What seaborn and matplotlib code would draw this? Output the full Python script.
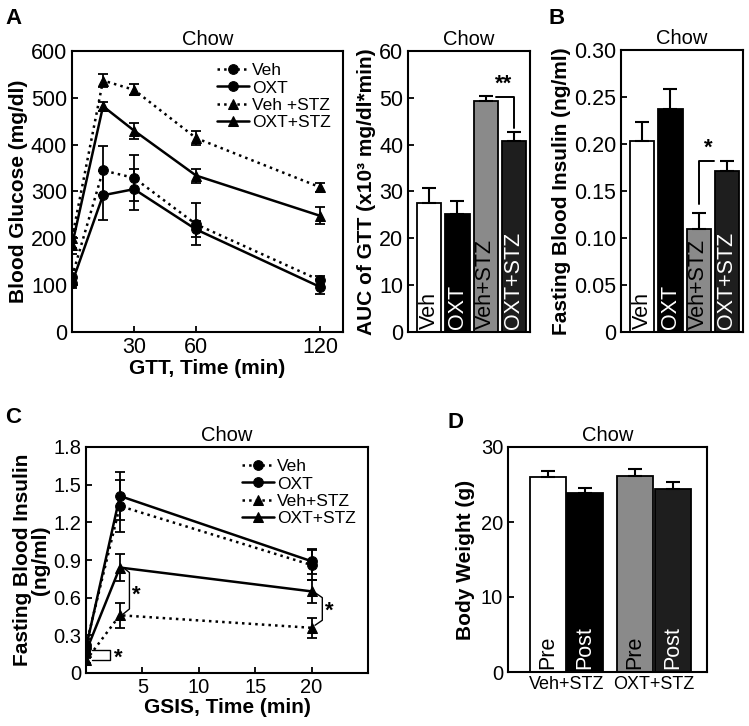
import numpy as np
import pandas as pd
import matplotlib
matplotlib.use("Agg")
import matplotlib.pyplot as plt
import seaborn as sns

sns.set_style("ticks")
plt.rcParams["font.family"] = ["Liberation Sans", "DejaVu Sans"]
plt.rcParams["axes.linewidth"] = 1.5
for key in ["text.color", "axes.labelcolor", "xtick.color", "ytick.color", "axes.edgecolor"]:
    plt.rcParams[key] = "black"

# ---- data ----
series_names = ["Veh", "OXT", "Veh +STZ", "OXT+STZ"]
series_names_c = ["Veh", "OXT", "Veh+STZ", "OXT+STZ"]
series_ls = [":", "-", ":", "-"]
series_mk = ["o", "o", "^", "^"]

gtt_time = [0, 15, 30, 60, 120]
gtt_veh = [118, 345, 329, 230, 110]
gtt_veh_err = [15, 53, 49, 45, 10]
gtt_oxt = [105, 292, 305, 219, 96]
gtt_oxt_err = [12, 52, 44, 17, 15]
gtt_veh_stz = [200, 537, 517, 414, 309]
gtt_veh_stz_err = [20, 14, 12, 15, 10]
gtt_oxt_stz = [185, 482, 430, 334, 248]
gtt_oxt_stz_err = [18, 10, 17, 15, 18]

bar_groups = ["Veh", "OXT", "Veh+STZ", "OXT+STZ"]
bar_colors = ["white", "black", "#8a8a8a", "#1e1e1e"]
bar_text_colors = ["black", "white", "black", "white"]
auc = [27.5, 25.2, 49.3, 40.8]
auc_err = [3.3, 2.7, 1.0, 2.0]
fasting_ins = [0.203, 0.237, 0.110, 0.171]
fasting_ins_err = [0.020, 0.021, 0.017, 0.011]

gsis_time = [0, 3, 20]
gsis_veh = [0.22, 1.33, 0.86]
gsis_veh_err = [0.05, 0.21, 0.12]
gsis_oxt = [0.20, 1.41, 0.89]
gsis_oxt_err = [0.04, 0.19, 0.10]
gsis_veh_stz = [0.10, 0.46, 0.36]
gsis_veh_stz_err = [0.02, 0.10, 0.08]
gsis_oxt_stz = [0.17, 0.84, 0.65]
gsis_oxt_stz_err = [0.03, 0.11, 0.09]

bw_groups = ["Veh+STZ", "OXT+STZ"]
bw_phases = ["Pre", "Post"]
bw_pre = [26.0, 26.2]
bw_pre_err = [0.8, 0.9]
bw_post = [23.9, 24.4]
bw_post_err = [0.7, 1.0]
bw_colors = {("Veh+STZ", "Pre"): "white", ("Veh+STZ", "Post"): "black",
             ("OXT+STZ", "Pre"): "#8a8a8a", ("OXT+STZ", "Post"): "#1e1e1e"}

W, H = 749, 726
fig = plt.figure(figsize=(W / 100, H / 100), dpi=100)


def px_axes(left, top, right, bottom):
    return fig.add_axes([left / W, 1 - bottom / H, (right - left) / W, (bottom - top) / H])


def line_panel(ax, t, ys, errs, names, fs_tick, fs_leg):
    for name, y, e, ls, mk in zip(names, ys, errs, series_ls, series_mk):
        sns.lineplot(x=t, y=y, ax=ax, color="black", linestyle=ls, marker=mk,
                     markersize=7 if mk == "o" else 7.5, linewidth=1.8,
                     markeredgecolor="black", label=name)
        ax.errorbar(t, y, yerr=e, fmt="none", ecolor="black", elinewidth=1.3, capsize=3.5,
                    capthick=1.3)
    ax.tick_params(direction="in", length=4, width=1.3, labelsize=fs_tick)
    ax.legend(loc="upper right", frameon=False, fontsize=fs_leg, handlelength=1.9,
              labelspacing=0.12, handletextpad=0.15, borderaxespad=0.3)


def bar_panel(ax, vals, errs, ylim, yticks, yticklabels):
    sns.barplot(x=bar_groups, y=vals, hue=bar_groups, palette=bar_colors, legend=False,
                edgecolor="black", linewidth=1.3, width=0.86, ax=ax)
    ax.errorbar(range(len(vals)), vals, yerr=[np.zeros(len(vals)), errs], fmt="none",
                ecolor="black", elinewidth=1.5, capsize=5, capthick=1.5)
    for i, (g, c) in enumerate(zip(bar_groups, bar_text_colors)):
        ax.text(i, ylim * 0.012, g, rotation=90, ha="center", va="bottom", color=c, fontsize=15.5)
    ax.set_ylim(0, ylim)
    ax.set_xlim(-0.75, 3.57)
    ax.set_xticks([])
    ax.set_yticks(yticks)
    ax.set_yticklabels(yticklabels)
    ax.tick_params(axis="y", direction="in", length=4, width=1.3, labelsize=15.5)
    ax.set_xlabel("")


# ---- A: GTT curve ----
axA = px_axes(72, 51, 343, 332)
line_panel(axA, gtt_time, [gtt_veh, gtt_oxt, gtt_veh_stz, gtt_oxt_stz],
           [gtt_veh_err, gtt_oxt_err, gtt_veh_stz_err, gtt_oxt_stz_err], series_names, 15.5, 12.5)
axA.set_xlim(0, 131)
axA.set_ylim(0, 600)
axA.set_xticks([30, 60, 120])
axA.set_yticks(range(0, 601, 100))
axA.set_title("Chow", fontsize=14.5, pad=4)
axA.set_ylabel("Blood Glucose (mg/dl)", fontsize=15, fontweight="bold", labelpad=2)
axA.set_xlabel("GTT, Time (min)", fontsize=15, fontweight="bold", labelpad=1)

# ---- A: AUC bars ----
axA2 = px_axes(408, 51, 530, 332)
bar_panel(axA2, auc, auc_err, 60, range(0, 61, 10), [str(v) for v in range(0, 61, 10)])
axA2.set_title("Chow", fontsize=14.5, pad=4)
axA2.set_ylabel("AUC of GTT (x10³ mg/dl*min)", fontsize=15, fontweight="bold", labelpad=2)
axA2.plot([2.35, 3.0, 3.0], [50.1, 50.1, 43.6], color="black", lw=1.4)
axA2.text(2.64, 50.6, "**", ha="center", va="bottom", fontsize=16, fontweight="bold")

# ---- B: fasting insulin bars ----
axB = px_axes(621, 50, 743, 332)
bar_panel(axB, fasting_ins, fasting_ins_err, 0.30, np.arange(0, 0.301, 0.05),
          ["0", "0.05", "0.10", "0.15", "0.20", "0.25", "0.30"])
axB.set_title("Chow", fontsize=14.5, pad=4)
axB.set_ylabel("Fasting Blood Insulin (ng/ml)", fontsize=15, fontweight="bold", labelpad=2)
axB.plot([2.0, 2.0, 2.55], [0.136, 0.182, 0.182], color="black", lw=1.4)
axB.text(2.33, 0.184, "*", ha="center", va="bottom", fontsize=16, fontweight="bold")

# ---- C: GSIS curve ----
axC = px_axes(86, 447, 368, 673)
line_panel(axC, gsis_time, [gsis_veh, gsis_oxt, gsis_veh_stz, gsis_oxt_stz],
           [gsis_veh_err, gsis_oxt_err, gsis_veh_stz_err, gsis_oxt_stz_err], series_names_c, 14.5, 12.5)
axC.set_xlim(0, 25)
axC.set_ylim(0, 1.8)
axC.set_xticks([5, 10, 15, 20])
axC.set_yticks(np.arange(0, 1.81, 0.3))
axC.set_yticklabels(["0", "0.3", "0.6", "0.9", "1.2", "1.5", "1.8"])
axC.set_title("Chow", fontsize=14.5, pad=4)
axC.set_ylabel("Fasting Blood Insulin\n(ng/ml)", fontsize=15, fontweight="bold",
               linespacing=0.95, labelpad=2)
axC.set_xlabel("GSIS, Time (min)", fontsize=15, fontweight="bold", labelpad=1)
axC.plot([3.3, 3.85, 3.85, 3.3], [0.84, 0.80, 0.51, 0.47], color="black", lw=1.0)
axC.text(4.5, 0.62, "*", ha="center", va="center", fontsize=16, fontweight="bold")
axC.plot([20.3, 20.95, 20.95, 20.3], [0.64, 0.60, 0.42, 0.38], color="black", lw=1.0)
axC.text(21.6, 0.49, "*", ha="center", va="center", fontsize=16, fontweight="bold")
axC.plot([0.5, 2.1, 2.1, 0.5], [0.18, 0.18, 0.107, 0.107], color="black", lw=1.0)
axC.text(2.85, 0.12, "*", ha="center", va="center", fontsize=16, fontweight="bold")

# ---- D: body weight bars ----
axD = px_axes(508, 447, 707, 672)
bw_df = pd.DataFrame({
    "group": bw_groups * 2,
    "phase": ["Pre"] * len(bw_groups) + ["Post"] * len(bw_groups),
    "weight": bw_pre + bw_post,
    "err": bw_pre_err + bw_post_err,
})
sns.barplot(data=bw_df, x="group", y="weight", hue="phase", hue_order=bw_phases,
            legend=False, edgecolor="black", linewidth=1.3, width=0.86, gap=0.04, ax=axD)
for p in axD.patches:
    xc = p.get_x() + p.get_width() / 2
    gi = int(round(xc))
    phase = "Pre" if xc < gi else "Post"
    grp = bw_groups[gi]
    row = bw_df[(bw_df.group == grp) & (bw_df.phase == phase)].iloc[0]
    p.set_facecolor(bw_colors[(grp, phase)])
    axD.errorbar([xc], [row.weight], yerr=[[0], [row.err]], fmt="none", ecolor="black",
                 elinewidth=1.5, capsize=5, capthick=1.5)
    tc = "black" if phase == "Pre" else "white"
    axD.text(xc, 0.4, phase, rotation=90, ha="center", va="bottom", color=tc, fontsize=15.5)
axD.set_ylim(0, 30)
axD.set_xlim(-0.67, 1.61)
axD.set_yticks([0, 10, 20, 30])
axD.tick_params(axis="y", direction="in", length=4, width=1.3, labelsize=14.5)
axD.tick_params(axis="x", length=0, labelsize=13, pad=3)
axD.set_xlabel("")
axD.set_title("Chow", fontsize=14.5, pad=4)
axD.set_ylabel("Body Weight (g)", fontsize=15, fontweight="bold", labelpad=4)

# ---- panel letters ----
for letter, x, y in [("A", 5, 8), ("B", 548, 8), ("C", 5, 407), ("D", 448, 412)]:
    fig.text(x / W, 1 - y / H, letter, fontsize=16, fontweight="bold", va="top", ha="left")

fig.savefig("out.png", dpi=100)
